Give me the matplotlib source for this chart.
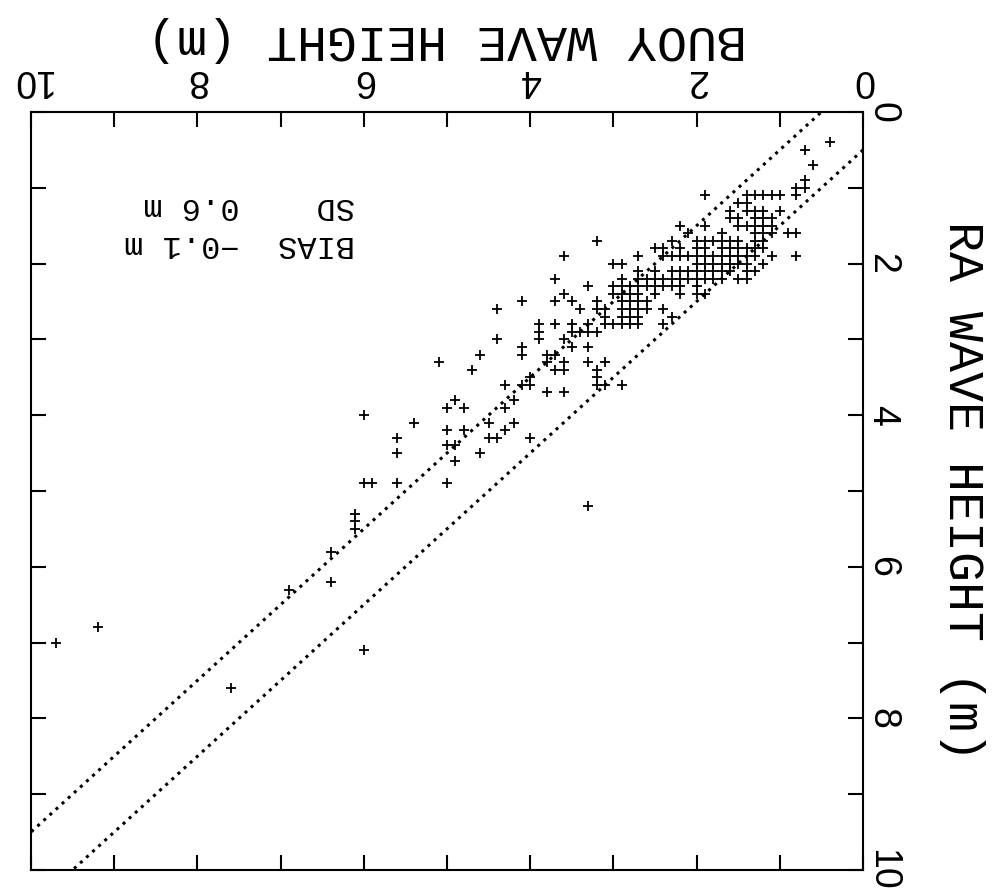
import matplotlib.pyplot as plt
import numpy as np

# RA wave height levels (m) and the buoy wave heights (m) recorded at each level
ra_levels = [0.4, 0.5, 0.7, 0.9, 1.0, 1.1, 1.2, 1.3, 1.4, 1.5, 1.6, 1.7, 1.8, 1.9,
             2.0, 2.1, 2.2, 2.3, 2.4, 2.5, 2.6, 2.7, 2.8, 2.9, 3.0, 3.1, 3.2, 3.3,
             3.4, 3.5, 3.6, 3.7, 3.8, 3.9, 4.0, 4.1, 4.2, 4.3, 4.4, 4.5, 4.6, 4.9,
             5.2, 5.3, 5.4, 5.5, 5.8, 6.2, 6.3, 6.8, 7.0, 7.1, 7.6]
buoy_at_level = [
    [0.4],
    [0.7],
    [0.6],
    [0.7],
    [0.8, 0.7],
    [1.9, 1.4, 1.3, 1.2, 1.1, 1.0, 0.8],
    [1.5, 1.4],
    [1.6, 1.4, 1.3, 1.2, 1.0],
    [1.6, 1.5, 1.3, 1.2, 1.1],
    [2.2, 1.9, 1.5, 1.4, 1.3, 1.2, 1.1],
    [2.1, 1.7, 1.3, 1.2, 1.1, 0.9, 0.8],
    [3.2, 2.3, 2.0, 1.9, 1.8, 1.7, 1.6, 1.5, 1.3, 1.2],
    [2.5, 2.4, 2.2, 2.0, 1.9, 1.7, 1.6, 1.5, 1.4, 1.3, 1.2],
    [3.6, 2.7, 2.4, 2.3, 2.2, 2.1, 2.0, 1.9, 1.8, 1.7, 1.6, 1.5, 1.4, 1.3, 1.1, 0.8],
    [3.0, 2.9, 2.0, 1.9, 1.8, 1.7, 1.6, 1.5, 1.4, 1.2],
    [2.7, 2.5, 2.3, 2.2, 2.1, 2.0, 1.9, 1.8, 1.7, 1.6, 1.4, 1.3],
    [3.7, 2.9, 2.7, 2.6, 2.5, 2.4, 2.3, 2.2, 2.1, 2.0, 1.9, 1.8, 1.7, 1.5, 1.4],
    [3.3, 3.0, 2.9, 2.8, 2.7, 2.6, 2.5, 2.4, 2.3, 2.2, 2.0],
    [3.6, 3.0, 2.9, 2.8, 2.7, 2.5, 2.2, 2.0, 1.9],
    [4.1, 3.7, 3.5, 3.2, 2.9, 2.8, 2.7, 2.6],
    [4.4, 3.4, 3.2, 3.1, 2.9, 2.8, 2.7, 2.6, 2.4],
    [3.1, 2.9, 2.8, 2.7, 2.3],
    [3.9, 3.7, 3.5, 3.3, 3.1, 3.0, 2.9, 2.8, 2.7, 2.4],
    [3.9, 3.5, 3.4, 3.3, 3.2],
    [4.4, 3.9, 3.6],
    [4.1, 3.5, 3.3],
    [4.6, 4.1, 3.8, 3.7],
    [5.1, 3.8, 3.6, 3.3, 3.1],
    [4.7, 3.7, 3.6, 3.2],
    [4.0, 3.2],
    [4.3, 4.1, 4.0, 3.2, 3.1, 2.9],
    [3.8, 3.6],
    [4.9, 4.2],
    [5.0, 4.8, 4.3],
    [6.0],
    [5.4, 4.5, 4.2],
    [5.0, 4.8, 4.3],
    [5.6, 4.5, 4.4, 4.0],
    [5.0, 4.9],
    [5.6, 4.6],
    [4.9],
    [6.0, 5.9, 5.6, 5.0],
    [3.3],
    [6.1],
    [6.1],
    [6.1],
    [6.4],
    [6.4],
    [6.9],
    [9.2],
    [9.7],
    [6.0],
    [7.6],
]

band_offsets = [-0.5, 0.5]
stats_lines = ['BIAS  \u22120.1 m', 'SD    0.6 m']
ticks = list(range(11))
tick_labels = [str(t) if t % 2 == 0 else '' for t in ticks]

buoy = np.concatenate([np.array(b) for b in buoy_at_level])
ra = np.concatenate([np.full(len(b), r) for r, b in zip(ra_levels, buoy_at_level)])

mono = ['Liberation Mono', 'DejaVu Sans Mono']

fig = plt.figure(figsize=(10.06, 8.93), dpi=100)
ax = fig.add_axes([0.0308, 0.0258, 0.8271, 0.8488])

ax.plot(buoy, ra, '+', color='k', markersize=7, markeredgewidth=1.3)

line_x = np.array([0.0, 10.0])
for off in band_offsets:
    ax.plot(line_x, line_x + off, color='k', lw=2.2, linestyle=(0, (1, 1.7)))

ax.set_xlim(10, 0)
ax.set_ylim(10, 0)

ax.set_xticks(ticks)
ax.set_yticks(ticks)
ax.xaxis.tick_top()
ax.yaxis.tick_right()
ax.tick_params(direction='in', length=11, width=1.5,
               top=True, bottom=True, left=True, right=True)
ax.tick_params(axis='x', pad=10)
ax.tick_params(axis='y', pad=1)
ax.set_xticklabels(tick_labels, rotation=180, fontsize=27, family='Liberation Sans')
ax.set_yticklabels(tick_labels, rotation=-90, va='center', fontsize=27,
                   family='Liberation Sans')

for s in ax.spines.values():
    s.set_linewidth(1.5)

ax.xaxis.set_label_position('top')
ax.set_xlabel('BUOY WAVE HEIGHT (m)', rotation=180, fontsize=36, family=mono,
              labelpad=7)
ax.yaxis.set_label_position('right')
ax.set_ylabel('RA WAVE HEIGHT (m)', rotation=-90, va='bottom', fontsize=36,
              family=mono, labelpad=28)

for i, txt in enumerate(stats_lines):
    ax.text(6.1, 1.74 - i * 0.5, txt, rotation=180, ha='right', va='center',
            fontsize=23, family=mono)

fig.savefig('out.png', dpi=100, facecolor='white')
